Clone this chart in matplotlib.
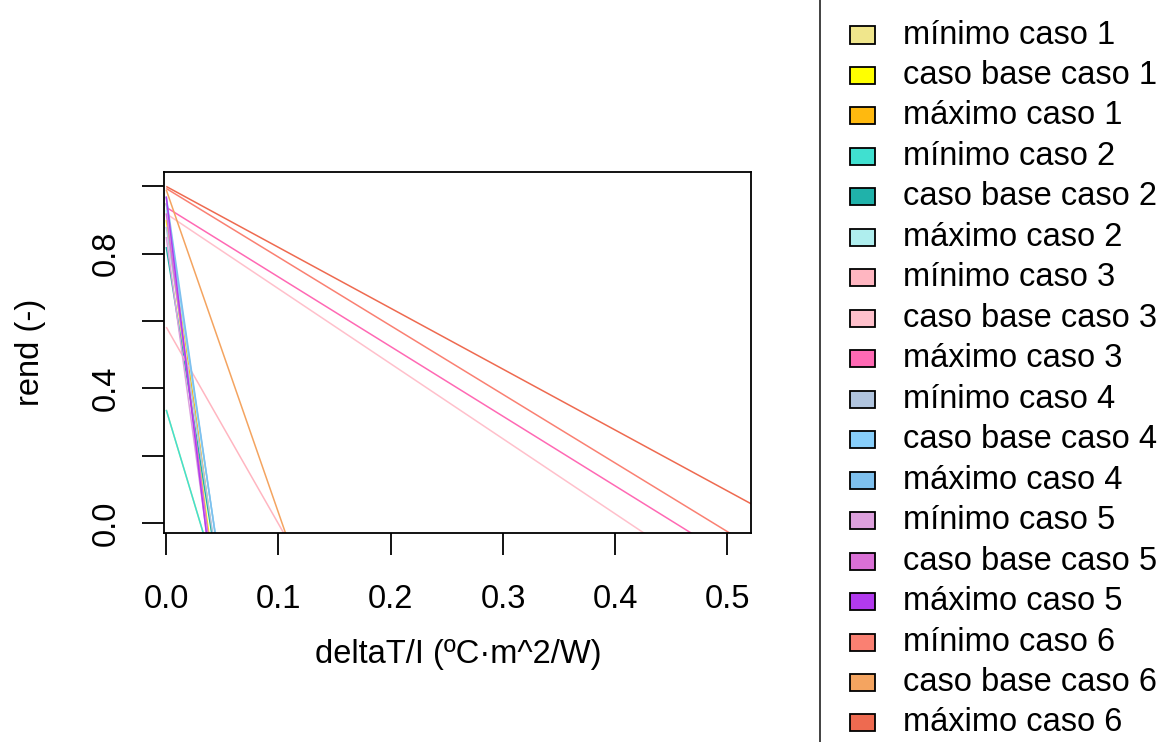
import matplotlib
matplotlib.use("Agg")
import matplotlib.pyplot as plt
from matplotlib.patches import Rectangle
from matplotlib.lines import Line2D
import numpy as np

plt.rcParams['font.family'] = ['Liberation Sans', 'DejaVu Sans']

# Series labels and colours
labels = [
    "mínimo caso 1", "caso base caso 1", "máximo caso 1",
    "mínimo caso 2", "caso base caso 2", "máximo caso 2",
    "mínimo caso 3", "caso base caso 3", "máximo caso 3",
    "mínimo caso 4", "caso base caso 4", "máximo caso 4",
    "mínimo caso 5", "caso base caso 5", "máximo caso 5",
    "mínimo caso 6", "caso base caso 6", "máximo caso 6",
]
colors = [
    "#F0E68C", "#FFFF00", "#FFB90F",
    "#40E0D0", "#20B2AA", "#AFEEEE",
    "#FFB6C1", "#FFC0CB", "#FF69B4",
    "#B0C4DE", "#87CEFA", "#7EC0EE",
    "#DDA0DD", "#DA70D6", "#B23AEE",
    "#FA8072", "#F4A460", "#EE6A50",
]
# Linear efficiency model: rend = eta0 - a1 * deltaT/I
eta0 = [0.336, 0.90, 0.95,
        0.336, 0.82, 0.93,
        0.582, 0.919, 0.938,
        0.88, 0.95, 0.97,
        0.85, 0.92, 0.97,
        0.994, 0.99, 1.00]
a1 = [11.1, 24.5, 24.0,
      11.1, 21.0, 22.0,
      5.85, 2.23, 2.07,
      22.0, 22.5, 23.0,
      24.5, 25.5, 28.0,
      2.04, 9.6, 1.81]

xticks = [0.0, 0.1, 0.2, 0.3, 0.4, 0.5]
yticks = [0.0, 0.2, 0.4, 0.6, 0.8, 1.0]
ytick_labels = ["0.0", "", "0.4", "", "0.8", ""]

W, H = 1175, 742
fig = plt.figure(figsize=(W / 100, H / 100), dpi=100)
ax = fig.add_axes([164 / W, 1 - 533 / H, (751 - 164) / W, (533 - 172) / H])

xs = np.array([0.0, 1.0])
for e, a, c in zip(eta0, a1, colors):
    ax.plot(xs, e - a * xs, color=c, lw=1.1, solid_capstyle='butt')

ax.set_xlim(-0.002, 0.521)
ax.set_ylim(-0.030, 1.043)
ax.set_xticks(xticks)
ax.set_xticklabels([f"{v:.1f}" for v in xticks])
ax.set_yticks(yticks)
ax.set_yticklabels(ytick_labels, rotation=90, va='center')
ax.tick_params(axis='both', direction='out', length=15.5, width=1.3,
               labelsize=23.5, color='black')
ax.tick_params(axis='x', pad=21)
ax.tick_params(axis='y', pad=15)
for s in ax.spines.values():
    s.set_linewidth(1.3)
    s.set_color('black')

fig.text(458 / W, 1 - 655 / H, "deltaT/I (ºC·m^2/W)", ha='center', va='center', fontsize=23.5)
fig.text(31 / W, 1 - 352 / H, "rend (-)", ha='center', va='center', rotation=90, fontsize=23.5)

# Legend drawn at figure level, to the right of the plot
fig.add_artist(Line2D([820 / W, 820 / W], [0, 1], color='#333333', lw=1.3, transform=fig.transFigure))
y0, dy = 35, 40.47
for i, (lab, c) in enumerate(zip(labels, colors)):
    yc = y0 + i * dy
    fig.add_artist(Rectangle((850 / W, 1 - (yc + 8.5) / H), 25 / W, 17 / H,
                             facecolor=c, edgecolor='black', lw=1.3,
                             transform=fig.transFigure))
    fig.text(903 / W, 1 - yc / H, lab, ha='left', va='center', fontsize=23.5)

fig.savefig("out.png", dpi=100)
